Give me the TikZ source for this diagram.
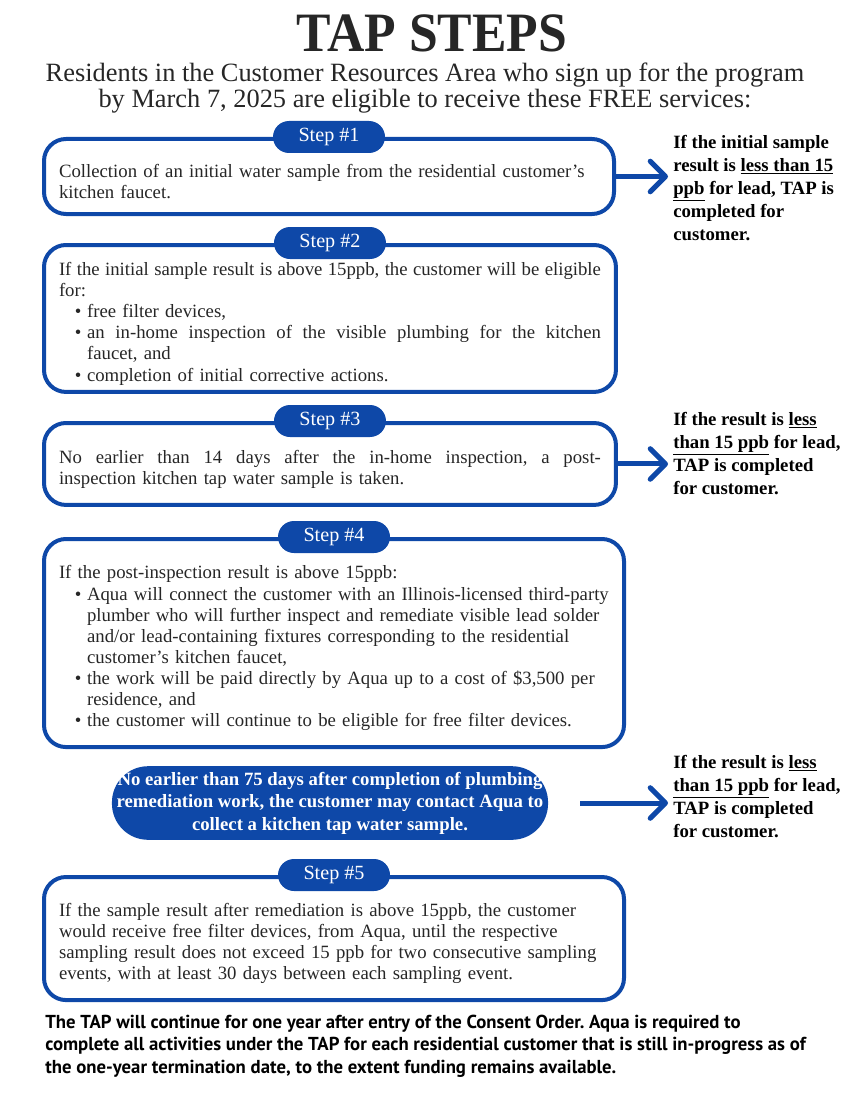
\documentclass[tikz,border=0pt]{standalone}
\usepackage{fontspec}
\usepackage{graphicx}
\setmainfont{Liberation Serif}
\newfontfamily\footfont{PT Sans}
\usetikzlibrary{arrows.meta}
\usetikzlibrary{positioning, calc}
\definecolor{tapblue}{RGB}{14,72,168}
\definecolor{tapgray}{RGB}{38,38,38}
\def\px{0.72pt}
\newcommand{\tapdot}{\hspace*{11.5pt}\makebox[8.7pt][l]{\textbullet}}
\newcommand{\tapgap}{\hspace*{20.2pt}}
\newcommand{\tapjust}[2]{\makebox[#1][s]{\spaceskip=0.25em plus 1fil minus 0.1em #2}}
\frenchspacing

\begin{document}
\begin{tikzpicture}[x=\px, y=-\px,
    stepbox/.style={draw=tapblue, line width=4*\px, rounded corners=22*\px, anchor=north west,
      inner xsep=15*\px, inner ysep=0pt, align=left, text=tapgray,
      font=\fontsize{13.5}{15.2}\selectfont, execute at begin node={\rule{0pt}{17pt}}},
    steptag/.style={fill=tapblue, rounded corners=16*\px, minimum width=112*\px, minimum height=32*\px,
      inner sep=0pt, text=white, font=\fontsize{14.5}{16}\selectfont},
    result/.style={anchor=north west, align=left, inner sep=0pt,
      font=\bfseries\fontsize{13.5}{16.6}\selectfont},
    nextarrow/.style={draw=tapblue, line width=5*\px, shorten >=5*\px,
      -{Straight Barb[length=11pt, width=22pt, round]}}]
    \useasboundingbox (0,0) rectangle (850,1100);

    % heading
    \node [text=tapgray, font=\bfseries\fontsize{40}{40}\selectfont] (title) at (432,33)
        {\scalebox{0.93}[1]{TAP STEPS}};
    \node [text=tapgray, align=center, font=\fontsize{19}{16.6}\selectfont] (intro) at (425,88)
        {Residents in the Customer Resources Area who sign up for the program\\
         by March 7, 2025 are eligible to receive these FREE services:};

    % the five steps
    \node [stepbox, minimum width=410.4pt, minimum height=54pt, text width=388.8pt] (s1) at (42,137)
        {Collection of an initial water sample from the residential customer’s\\
         kitchen faucet.};
    \node [stepbox, minimum width=411.8pt, minimum height=105.8pt, text width=390.2pt] (s2) at (42,243)
        {\tapjust{390.2pt}{If the initial sample result is above 15ppb, the customer will be eligible}\\
         for:\\
         \tapdot free filter devices,\\
         \tapdot\tapjust{370pt}{an in-home inspection of the visible plumbing for the kitchen}\\
         \tapgap faucet, and\\
         \tapdot completion of initial corrective actions.};
    \node [stepbox, minimum width=411.8pt, minimum height=59pt, text width=390.2pt] (s3) at (42,421)
        {\tapjust{390.2pt}{No earlier than 14 days after the in-home inspection, a post-}\\
         inspection kitchen tap water sample is taken.};
    \node [stepbox, minimum width=417.6pt, minimum height=149.8pt, text width=396pt] (s4) at (42,537)
        {If the post-inspection result is above 15ppb:\\
         \tapdot Aqua will connect the customer with an Illinois-licensed third-party\\
         \tapgap plumber who will further inspect and remediate visible lead solder\\
         \tapgap and/or lead-containing fixtures corresponding to the residential\\
         \tapgap customer’s kitchen faucet,\\
         \tapdot the work will be paid directly by Aqua up to a cost of \$3,500 per\\
         \tapgap residence, and\\
         \tapdot the customer will continue to be eligible for free filter devices.};
    \node [stepbox, minimum width=417.6pt, minimum height=88.6pt, text width=396pt] (s5) at (42,875)
        {If the sample result after remediation is above 15ppb, the customer\\
         would receive free filter devices, from Aqua, until the respective\\
         sampling result does not exceed 15 ppb for two consecutive sampling\\
         events, with at least 30 days between each sampling event.};

    \foreach \i in {1,...,5}
        \node [steptag] (tag\i) at (s\i.north) {Step \#\i};

    % follow-up sample
    \node [fill=tapblue, rounded corners=26pt, minimum width=314pt, minimum height=53pt, inner sep=0pt,
        text=white, align=center, font=\bfseries\fontsize{13.5}{16.2}\selectfont] (cta) at (330,803)
        {No earlier than 75 days after completion of plumbing\\
         remediation work, the customer may contact Aqua to\\
         collect a kitchen tap water sample.};

    % outcomes
    \node [result] (res1) at (673,135)
        {If the initial sample\\ result is \underline{less than 15}\\ \underline{ppb} for lead, TAP is\\
         completed for\\ customer.};
    \node [result] (res3) at (673,412)
        {If the result is \underline{less}\\ \underline{than 15 ppb} for lead,\\ TAP is completed\\ for customer.};
    \node [result] (res5) at (673,755)
        {If the result is \underline{less}\\ \underline{than 15 ppb} for lead,\\ TAP is completed\\ for customer.};

    \draw [nextarrow] (s1.east) -- (s1.east -| res1.west);
    \draw [nextarrow] (s3.east) -- (s3.east -| res3.west);
    \draw [nextarrow, shorten <=32*\px] (cta.east) -- (cta.east -| res5.west);

    \node [anchor=north west, align=left, inner sep=0pt, font=\footfont\bfseries\fontsize{13.5}{16}\selectfont]
        (note) at (45,1015)
        {The TAP will continue for one year after entry of the Consent Order. Aqua is required to\\
         complete all activities under the TAP for each residential customer that is still in-progress as of\\
         the one-year termination date, to the extent funding remains available.};
\end{tikzpicture}
\end{document}
